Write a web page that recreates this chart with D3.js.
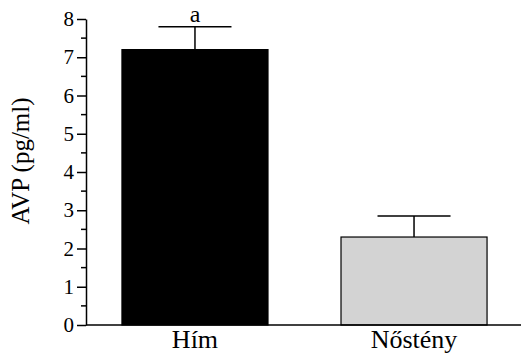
<!DOCTYPE html>
<html>
<head>
<meta charset="utf-8">
<script src="https://cdn.jsdelivr.net/npm/d3@7"></script>
<style>
  body { margin: 0; background: #fff; }
  svg text { font-family: "Liberation Serif", "Times New Roman", "DejaVu Serif", serif; }
</style>
</head>
<body>
<div id="chart"></div>
<script>
const categories = ["Hím", "Nőstény"];
const means = [7.2, 2.3];
const errors = [0.6, 0.55];
const colors = ["#000000", "#d3d3d3"];
const marks = ["a", ""];
const yTicks = [0, 1, 2, 3, 4, 5, 6, 7, 8];

const serif = "'Liberation Serif', 'Times New Roman', serif";
const width = 521, height = 353;
const margin = { top: 19, right: 0, bottom: 28, left: 86 };

const svg = d3.select("#chart").append("svg")
    .attr("width", width)
    .attr("height", height)
    .attr("font-family", serif);

const y = d3.scaleLinear().domain([0, 8]).range([height - margin.bottom, margin.top]);
const x = d3.scaleBand().domain(categories)
    .range([margin.left + 2, width - margin.right])
    .paddingInner(1 / 3)
    .paddingOuter(0.155);

// bars
svg.append("g").selectAll("rect")
    .data(categories)
    .join("rect")
    .attr("x", d => x(d))
    .attr("y", (d, i) => y(means[i]))
    .attr("width", x.bandwidth())
    .attr("height", (d, i) => y(0) - y(means[i]))
    .attr("fill", (d, i) => colors[i])
    .attr("stroke", "#000")
    .attr("stroke-width", 1.2);

// error bars (upper only)
const capW = x.bandwidth() / 2;
const err = svg.append("g").attr("stroke", "#000").attr("stroke-width", 1.5);
categories.forEach((c, i) => {
    const cx = x(c) + x.bandwidth() / 2;
    err.append("line")
        .attr("x1", cx).attr("x2", cx)
        .attr("y1", y(means[i])).attr("y2", y(means[i] + errors[i]));
    err.append("line")
        .attr("x1", cx - capW / 2).attr("x2", cx + capW / 2)
        .attr("y1", y(means[i] + errors[i])).attr("y2", y(means[i] + errors[i]));
    if (marks[i]) {
        svg.append("text")
            .attr("x", cx)
            .attr("y", y(means[i] + errors[i]) - 5)
            .attr("text-anchor", "middle")
            .attr("font-family", serif)
            .attr("font-size", 24)
            .text(marks[i]);
    }
});

// y axis
const yAxis = svg.append("g")
    .attr("transform", `translate(${margin.left},0)`)
    .call(d3.axisLeft(y).tickValues(yTicks).tickSize(9).tickPadding(3).tickSizeOuter(0))
    .attr("font-family", serif);
yAxis.select(".domain").attr("stroke-width", 1.5);
yAxis.selectAll(".tick line").attr("stroke-width", 1.5);
yAxis.selectAll(".tick text").attr("font-size", 21).attr("fill", "#000");

// minor ticks
svg.append("g").attr("stroke", "#000").attr("stroke-width", 1.5)
    .selectAll("line")
    .data(d3.range(0.5, 8, 1))
    .join("line")
    .attr("x1", margin.left - 5).attr("x2", margin.left)
    .attr("y1", d => y(d)).attr("y2", d => y(d));

// x axis
const xAxis = svg.append("g")
    .attr("transform", `translate(0,${y(0)})`)
    .call(d3.axisBottom(x).tickSize(0).tickSizeOuter(0))
    .attr("font-family", serif);
xAxis.select(".domain").attr("d", `M${margin.left},0H${width}`).attr("stroke-width", 1.5);
xAxis.selectAll(".tick text")
    .attr("font-size", 26)
    .attr("fill", "#000")
    .attr("dy", null)
    .attr("y", 23);

// y label
svg.append("text")
    .attr("transform", "translate(29,161) rotate(-90)")
    .attr("text-anchor", "middle")
    .attr("font-family", serif)
    .attr("font-size", 25)
    .text("AVP (pg/ml)");
</script>
</body>
</html>
